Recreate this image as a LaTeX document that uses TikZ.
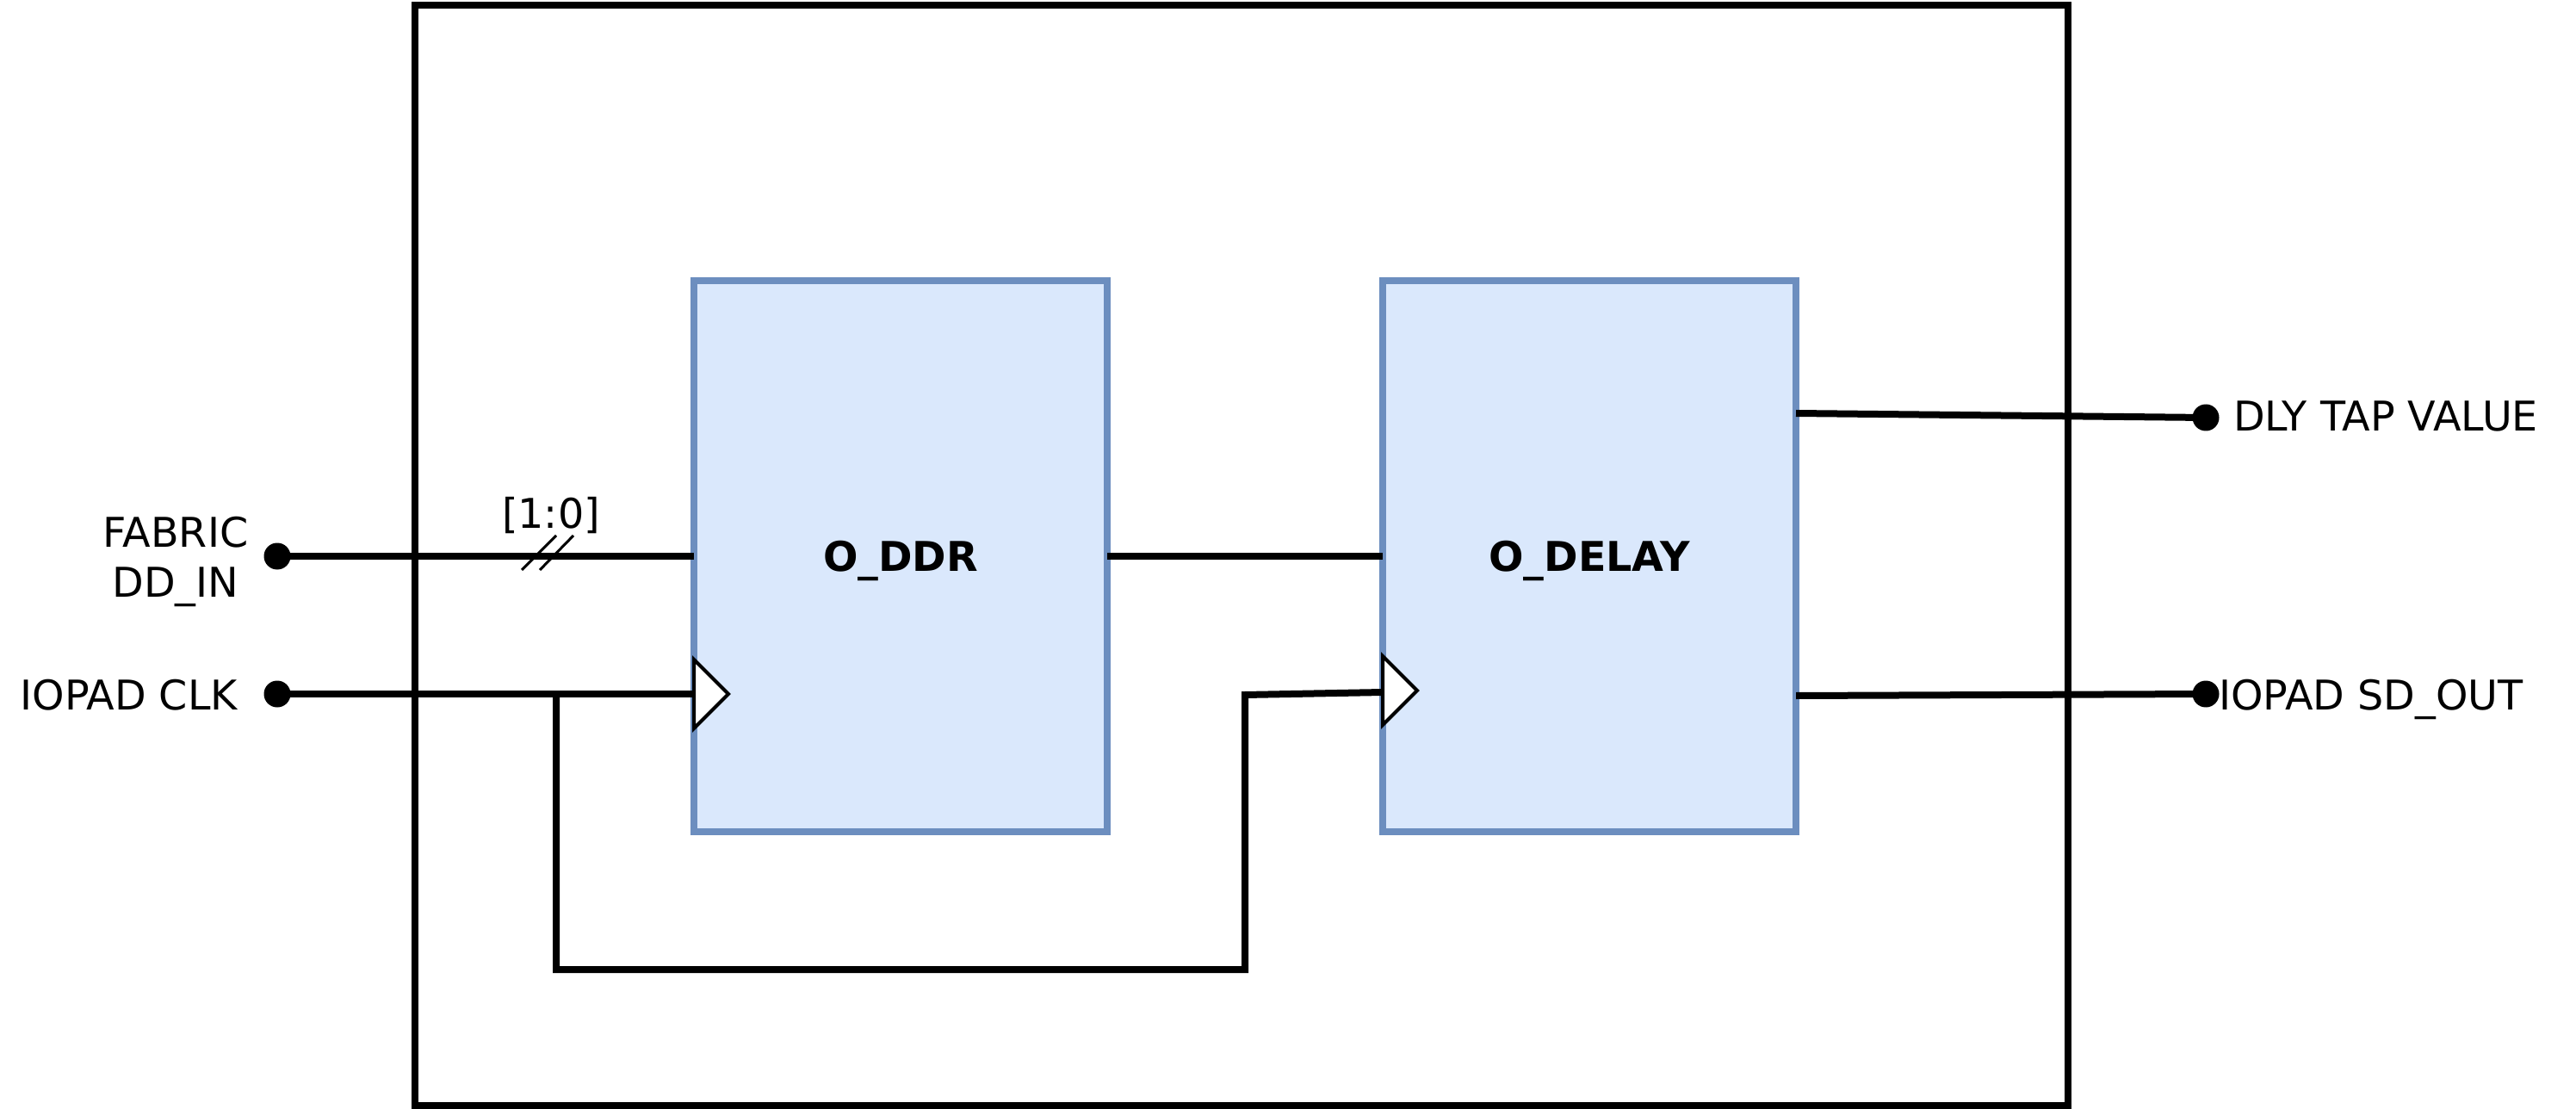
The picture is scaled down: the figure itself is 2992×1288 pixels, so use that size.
\documentclass[tikz,border=0pt]{standalone}
\usepackage{fontspec}
\setmainfont{DejaVu Sans}
\definecolor{blkfill}{HTML}{DAE8FC}
\definecolor{blkline}{HTML}{6C8EBF}
\begin{document}
\begin{tikzpicture}[x=0.5pt,y=-0.5pt,
  wire/.style={line width=4pt},
  frame/.style={line width=4pt},
  blk/.style={draw=blkline,fill=blkfill,line width=4pt,minimum width=240pt,minimum height=320pt,
    inner sep=0pt,outer sep=0pt,text height=17.35pt,text depth=0pt,
    font=\bfseries\fontsize{23.8}{28.5}\selectfont},
  pin/.style={circle,fill=black,minimum size=15.5pt,inner sep=0pt,outer sep=0pt},
  lbl/.style={inner sep=0pt,outer sep=0pt,font=\fontsize{23.8}{28.5}\selectfont},
  clk/.style={draw=black,fill=white,line width=2pt,line join=miter},
  bus/.style={line width=1.5pt}]
\useasboundingbox (0,0) rectangle (2992,1288);
% outer frame
\draw[frame] (482,6) rectangle (2402,1284);
% pins
\node[pin] (fab) at (322,646) {};
\node[pin] (clkin) at (322,806) {};
\node[pin] (dly) at (2562,485) {};
\node[pin] (sdo) at (2562,806) {};
% blocks
\node[blk] (oddr) at (1046,646) {O\_DDR};
\node[blk] (odelay) at (1846,646) {O\_DELAY};
% loop corner coordinates
\coordinate (tap) at (646,806);
\coordinate (loopA) at (646,1126);
\coordinate (loopB) at (1446,1126);
\coordinate (loopC) at (1446,807);
% wires
\draw[wire] (fab.center) -- (oddr.west);
\draw[wire] (clkin.center) -- (oddr.west |- clkin.center);
\draw[wire] (tap) -- (loopA) -- (loopB) -- (loopC) -- ([yshift=-79pt]odelay.west);
\draw[wire] (oddr.east) -- (odelay.west);
\draw[wire] ([yshift=83pt]odelay.east) -- (dly.center);
\draw[wire] ([yshift=-81pt]odelay.east) -- (sdo.center);
% bus slashes
\draw[bus] (606,662) -- (646,622);
\draw[bus] (627,662) -- (666,622);
% clock triangles
\draw[clk] ([yshift=-60pt]oddr.west) -- ([xshift=20pt,yshift=-80pt]oddr.west) -- ([yshift=-100pt]oddr.west) -- cycle;
\draw[clk] ([yshift=-58pt]odelay.west) -- ([xshift=20pt,yshift=-78pt]odelay.west) -- ([yshift=-98pt]odelay.west) -- cycle;
% labels
\node[lbl,anchor=base] (fabtxt) at (204,635.4) {FABRIC};
\node[lbl,anchor=base] (ddtxt) at (204,693.4) {DD\_IN};
\node[lbl,anchor=base east] (clktxt) at (276,824.4) {IOPAD CLK};
\node[lbl,anchor=base] (bustxt) at (640,613.4) {[1:0]};
\node[lbl,anchor=base west] (dlytxt) at (2594,500.4) {DLY TAP VALUE};
\node[lbl,anchor=base west] (sdotxt) at (2577,824.4) {IOPAD SD\_OUT};
\end{tikzpicture}
\end{document}
